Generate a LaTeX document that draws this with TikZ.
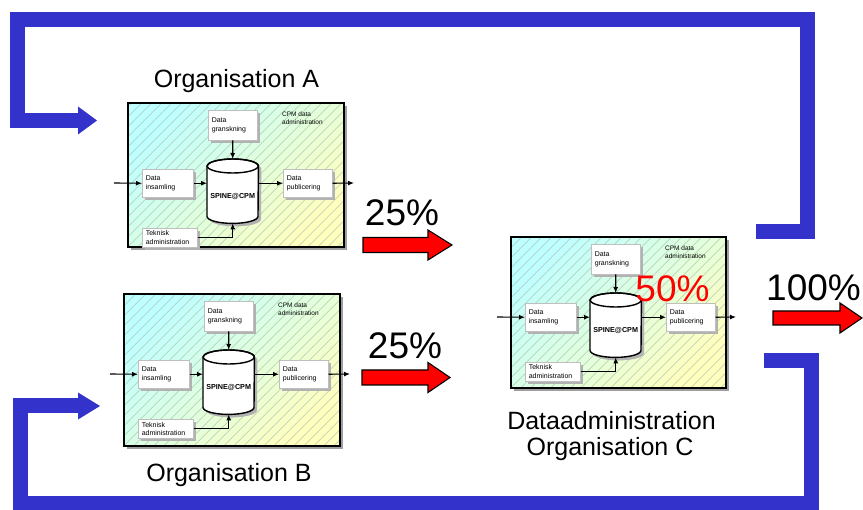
\documentclass[tikz,border=0pt]{standalone}
\usepackage{fontspec}
\setmainfont{Liberation Sans}
\usetikzlibrary{arrows.meta,calc,shadows}

\definecolor{loopblue}{RGB}{51,51,204}
\definecolor{panelcyan}{RGB}{190,255,255}
\definecolor{panelyellow}{RGB}{255,255,190}
\definecolor{hatchgray}{RGB}{165,178,172}

\tikzset{
  panel/.style={draw=black, line width=1.6pt, anchor=north west, inner sep=0pt,
    top color=panelcyan, bottom color=panelyellow, shading angle=45,
    drop shadow={shadow xshift=3pt, shadow yshift=-3pt, fill=gray!75, opacity=1},
    path picture={\foreach \k in {0,...,46}{\draw[hatchgray, line width=0.4pt]
      ($(path picture bounding box.south west)+(\k*10-170,0)$) -- ++(180,-180);}}},
  subbox/.style={draw=gray!50, line width=0.5pt, fill=white, anchor=north west,
    inner xsep=3.5pt, inner ysep=1.5pt, align=left, minimum width=#1, text width=#1-7,
    font=\fontsize{7}{8.5}\selectfont,
    drop shadow={shadow xshift=2.5pt, shadow yshift=-2.5pt, fill=gray!60, opacity=1}},
  dbnode/.style={anchor=north west, inner sep=0pt, minimum width=51pt, minimum height=64pt},
  dblabel/.style={font=\bfseries\fontsize{7.2}{8}\selectfont, inner sep=0pt},
  notetext/.style={font=\fontsize{6.5}{8}\selectfont, align=left, anchor=north west, inner sep=0pt},
  flowarrow/.style={-{Latex[length=6pt,width=5pt]}, line width=1.1pt},
  loopline/.style={draw=loopblue, line width=15pt, line join=miter},
  redarrow/.style={fill=red, draw=black, line width=1.1pt, line join=miter},
  biglabel/.style={font=\fontsize{25}{26}\selectfont, anchor=base, inner sep=0pt},
  pct/.style={font=\fontsize{37}{40}\selectfont, anchor=base, inner sep=0pt},
}

% One CPM data administration panel: prefix, left, top, width, height
\newcommand\cpmpanel[5]{%
  \node[panel, minimum width=#4, minimum height=#5] (#1-panel) at (#2,#3) {};
  \node[notetext] (#1-note) at (#2+155,#3+10) {CPM data\\administration};
  \node[subbox=49, minimum height=30] (#1-gran) at (#2+81,#3+8) {Data\\granskning};
  \node[subbox=51, minimum height=28] (#1-ins) at (#2+15,#3+67) {Data\\insamling};
  \node[subbox=49, minimum height=28] (#1-pub) at (#2+156,#3+67) {Data\\publicering};
  \node[subbox=55, minimum height=19] (#1-tek) at (#2+15,#3+126) {Teknisk\\administration};
  % database cylinder
  \node[dbnode] (#1-db) at (#2+80,#3+57) {};
  \fill[gray!60, transform canvas={xshift=3pt,yshift=-3pt}]
    ($(#1-db.north west)+(0,7)$) -- ($(#1-db.south west)+(0,-7)$)
    arc[start angle=180,end angle=0,x radius=25.5,y radius=7]
    -- ($(#1-db.north east)+(0,7)$)
    arc[start angle=0,end angle=-180,x radius=25.5,y radius=7] -- cycle;
  \filldraw[fill=white, draw=black, line width=1.4pt]
    ($(#1-db.north west)+(0,7)$) -- ($(#1-db.south west)+(0,-7)$)
    arc[start angle=180,end angle=0,x radius=25.5,y radius=7]
    -- ($(#1-db.north east)+(0,7)$)
    arc[start angle=0,end angle=-180,x radius=25.5,y radius=7] -- cycle;
  \draw[line width=1.4pt] ($(#1-db.north)+(0,7)$) ellipse[x radius=25.5, y radius=7];
  \node[dblabel] (#1-dbtext) at ($(#1-db.center)+(0,5)$) {SPINE@CPM};
  % data flow
  \coordinate (#1-in) at (#2-13,#3+81);
  \coordinate (#1-out) at (#2+#4+11,#3+81);
  \draw[flowarrow] (#1-in) -- (#1-ins.west);
  \draw[flowarrow] (#1-ins.east) -- (#1-ins.east -| #1-db.west);
  \draw[flowarrow] (#1-gran.south) -- (#1-db.north);
  \draw[flowarrow] (#1-db.east |- #1-pub.west) -- (#1-pub.west);
  \draw[flowarrow] (#1-pub.east) -- (#1-out);
  \draw[flowarrow] (#1-tek.east) -| (#1-db.south);
}

\begin{document}
\begin{tikzpicture}[x=1pt, y=-1pt]
  \useasboundingbox (0,0) rectangle (863,510);
  \clip (0,0) rectangle (863,510);

  % feedback loops
  \coordinate (top-start) at (756,232);
  \coordinate (top-ne) at (807.5,19.5);
  \coordinate (top-sw) at (17.5,120.5);
  \coordinate (top-end) at (79,120.5);
  \draw[loopline] (top-start) -| (top-ne) -| (top-sw) -- (top-end);
  \fill[loopblue] (78,106.5) -- (97,120.5) -- (78,134.5) -- cycle;

  \coordinate (bot-start) at (764,360.5);
  \coordinate (bot-se) at (811.5,504);
  \coordinate (bot-nw) at (20.5,406);
  \coordinate (bot-end) at (79,406);
  \draw[loopline] (bot-start) -| (bot-se) -| (bot-nw) -- (bot-end);
  \fill[loopblue] (78,392.5) -- (100,406) -- (78,419.5) -- cycle;

  % the three panels
  \cpmpanel{A}{127}{102}{216}{144}
  \cpmpanel{B}{123}{293}{216}{152}
  \cpmpanel{C}{510}{236}{215}{151}

  % titles
  \node[biglabel] (title-A) at (236.5,88) {Organisation A};
  \node[biglabel] (title-B) at (229,482) {Organisation B};
  \node[biglabel] (title-C1) at (611.5,430) {Dataadministration};
  \node[biglabel] (title-C2) at (610,456) {Organisation C};

  % shares
  \draw[redarrow] (363,237.5) -- (428,237.5) -- (428,230) -- (452,245) -- (428,260) -- (428,252.5) -- (363,252.5) -- cycle;
  \draw[redarrow] (362,370) -- (428,370) -- (428,362.5) -- (450,377.5) -- (428,392.5) -- (428,385) -- (362,385) -- cycle;
  \draw[redarrow] (773,311) -- (840,311) -- (840,303) -- (862,318) -- (840,333) -- (840,325) -- (773,325) -- cycle;
  \node[pct] (share-A) at (402,226) {25\%};
  \node[pct] (share-B) at (405,359) {25\%};
  \node[pct] (share-all) at (813.5,301) {100\%};
  \node[pct, text=red] (share-C) at (672.5,302) {50\%};
\end{tikzpicture}
\end{document}
